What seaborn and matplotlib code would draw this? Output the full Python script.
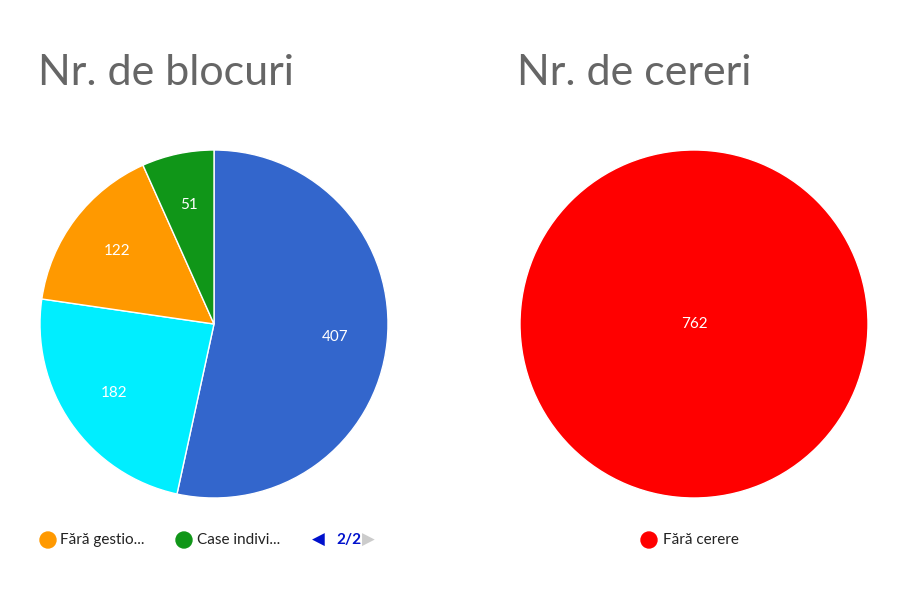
import matplotlib
matplotlib.use("Agg")
import matplotlib.pyplot as plt
import seaborn as sns

sns.set_theme(style="white")
plt.rcParams['font.family'] = ['Lato', 'DejaVu Sans']

blocuri_labels = ["Cu gestionar", "Fără asociație", "Fără gestionar", "Case individuale"]
blocuri_values = [407, 182, 122, 51]
blocuri_colors = ["#3366cc", "#00eeff", "#ff9900", "#109618"]

cereri_labels = ["Fără cerere"]
cereri_values = [762]
cereri_colors = ["#ff0000"]

fig = plt.figure(figsize=(9.08, 5.98), dpi=100)
fig.patch.set_facecolor("white")

def pie_axes(cx, cy, r):
    W, H = 908, 598
    return fig.add_axes([(cx - r) / W, (H - cy - r) / H, 2 * r / W, 2 * r / H])

def draw(ax, vals, cols):
    wedges, texts = ax.pie(vals, colors=cols, startangle=90, counterclock=False,
                           wedgeprops=dict(edgecolor="white", linewidth=1))
    tot = sum(vals)
    import numpy as np
    start = 90.0
    for v in vals:
        ang = start - v / tot * 360 / 2
        start -= v / tot * 360
        rr = 0.0 if v == tot else 0.7
        ax.text(rr * np.cos(np.radians(ang)), rr * np.sin(np.radians(ang)), str(v),
                color="white", ha="center", va="center", fontsize=11)
    ax.set_xlim(-1, 1); ax.set_ylim(-1, 1); ax.set_aspect("equal"); ax.axis("off")

ax1 = pie_axes(214, 324, 174)
draw(ax1, blocuri_values, blocuri_colors)
ax2 = pie_axes(694, 324, 174)
draw(ax2, cereri_values, cereri_colors)

fig.text(38 / 908, 1 - 85 / 598, "Nr. de blocuri", fontsize=31, color="#666666", ha="left", va="baseline")
fig.text(517 / 908, 1 - 85 / 598, "Nr. de cereri", fontsize=31, color="#666666", ha="left", va="baseline")

# legends
ly = 1 - 540 / 598
def dot(x, c):
    fig.patches.append(matplotlib.patches.Ellipse((x / 908, ly), 16 / 908, 16 / 598,
                       transform=fig.transFigure, color=c))
dot(48, blocuri_colors[2])
fig.text(60 / 908, ly, "Fără gestio...", fontsize=11, va="center", color="#222222")
dot(184, blocuri_colors[3])
fig.text(197 / 908, ly, "Case indivi...", fontsize=11, va="center", color="#222222")
fig.text(312 / 908, ly, "◀", fontsize=12, va="center", color="#0011cc", family="DejaVu Sans")
fig.text(336 / 908, ly, "2/2", fontsize=11, va="center", color="#0011cc", weight="bold")
fig.text(362 / 908, ly, "▶", fontsize=12, va="center", color="#cccccc", family="DejaVu Sans")
dot(649, cereri_colors[0])
fig.text(663 / 908, ly, "Fără cerere", fontsize=11, va="center", color="#222222")

fig.savefig("out.png", dpi=100)
